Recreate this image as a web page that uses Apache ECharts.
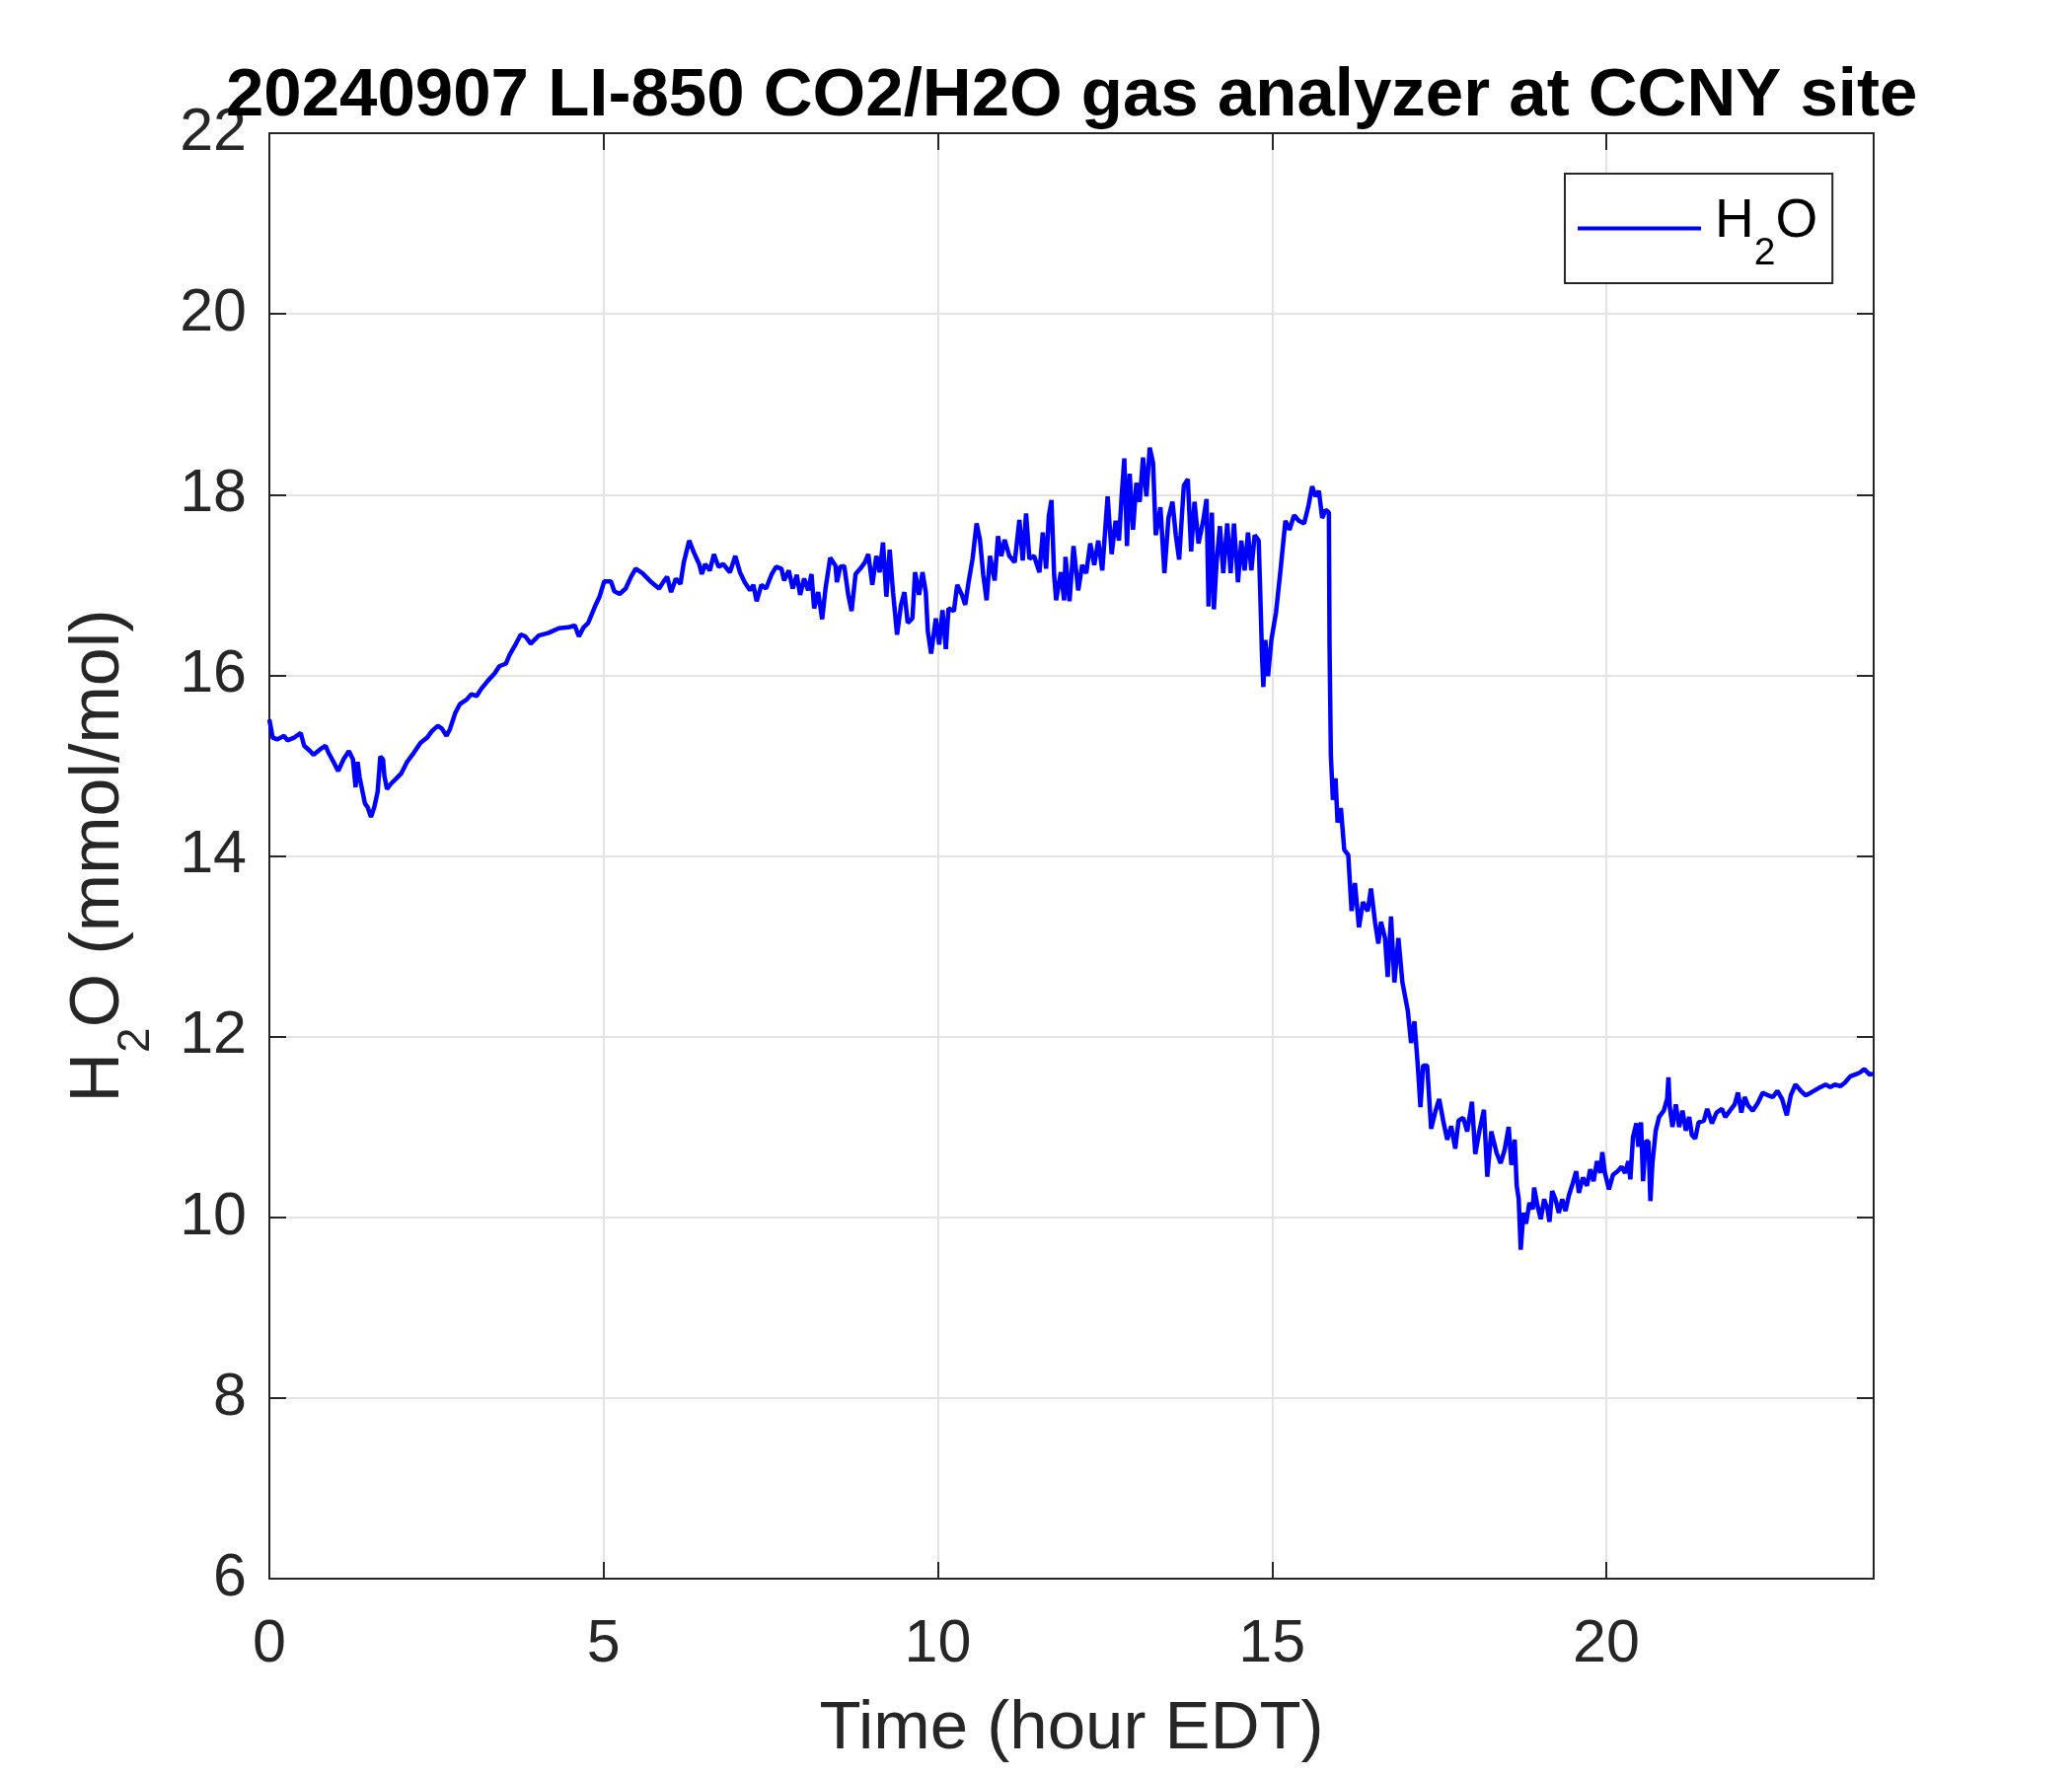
<!DOCTYPE html>
<html>
<head>
<meta charset="utf-8">
<script src="https://cdn.jsdelivr.net/npm/echarts@6/dist/echarts.min.js"></script>
<style>
html,body{margin:0;padding:0;background:#ffffff;}
#chart{width:2100px;height:1800px;}
</style>
</head>
<body>
<div id="chart"></div>
<script>
// ---- Data (hour EDT, H2O mmol/mol) ----
const h2oNightMorning = [
[0.00,15.51],[0.05,15.31],[0.12,15.29],[0.22,15.33],[0.27,15.28],[0.37,15.31],[0.47,15.36],[0.52,15.22],
[0.61,15.16],[0.66,15.12],[0.76,15.18],[0.84,15.22],[0.88,15.15],[0.96,15.04],[1.03,14.94],[1.11,15.07],
[1.19,15.16],[1.25,15.07],[1.29,14.76],[1.32,15.04],[1.35,14.87],[1.43,14.58],[1.47,14.54],[1.52,14.43],
[1.57,14.54],[1.62,14.71],[1.66,15.10],[1.70,15.07],[1.72,14.89],[1.76,14.74],[1.82,14.80],[1.89,14.85],
[1.97,14.91],[2.06,15.04],[2.16,15.14],[2.26,15.25],[2.36,15.31],[2.43,15.38],[2.52,15.44],[2.58,15.41],
[2.65,15.33],[2.70,15.40],[2.78,15.58],[2.85,15.68],[2.95,15.73],[3.02,15.79],[3.10,15.77],[3.17,15.85],
[3.27,15.94],[3.37,16.02],[3.44,16.10],[3.54,16.13],[3.59,16.22],[3.69,16.35],[3.76,16.45],[3.83,16.43],
[3.91,16.35],[4.03,16.44],[4.18,16.47],[4.33,16.52],[4.47,16.53],[4.57,16.55],[4.63,16.43],[4.70,16.53],
[4.77,16.58],[4.87,16.76],[4.94,16.87],[5.01,17.04],[5.11,17.04],[5.16,16.93],[5.24,16.90],[5.33,16.96],
[5.41,17.09],[5.48,17.18],[5.58,17.13],[5.70,17.04],[5.83,16.96],[5.90,17.04],[5.95,17.09]
];
const h2oLateMorning = [
[6.01,16.92],[6.08,17.07],[6.15,17.01],[6.20,17.25],[6.28,17.49],[6.35,17.36],[6.43,17.23],[6.47,17.12],
[6.52,17.23],[6.59,17.16],[6.65,17.34],[6.72,17.20],[6.79,17.23],[6.89,17.14],[6.97,17.32],[7.04,17.14],
[7.11,17.03],[7.19,16.94],[7.24,17.00],[7.29,16.82],[7.36,17.00],[7.43,16.96],[7.51,17.11],[7.58,17.20],
[7.66,17.18],[7.70,17.05],[7.77,17.16],[7.83,16.96],[7.89,17.11],[7.94,16.89],[8.00,17.07],[8.06,16.94],
[8.11,17.12],[8.15,16.74],[8.21,16.92],[8.27,16.62],[8.32,16.96],[8.39,17.30],[8.47,17.21],[8.49,17.03],
[8.54,17.20],[8.60,17.21],[8.66,16.89],[8.71,16.71],[8.77,17.12],[8.84,17.18],[8.91,17.25],[8.96,17.34],
[9.02,17.00],[9.08,17.32],[9.13,17.14],[9.18,17.47],[9.23,16.87],[9.28,17.39],[9.33,16.92],[9.39,16.45],
[9.45,16.78],[9.50,16.92],[9.55,16.58],[9.62,16.63],[9.66,17.14],[9.72,16.89],[9.77,17.14],[9.82,16.92],
[9.85,16.49],[9.90,16.24],[9.97,16.63],[10.02,16.34],[10.07,16.72],[10.12,16.29],[10.16,16.74],[10.24,16.71],
[10.29,17.00],[10.36,16.89],[10.41,16.78],[10.46,17.03],[10.52,17.29],[10.58,17.68],[10.63,17.50],[10.68,17.11],
[10.73,16.83],[10.78,17.32],[10.85,17.05],[10.90,17.54],[10.95,17.32],[11.00,17.50],[11.07,17.32],[11.15,17.25],
[11.22,17.72],[11.27,17.27],[11.32,17.79],[11.37,17.29],[11.44,17.32],[11.52,17.14],[11.57,17.58],[11.62,17.18],
[11.66,17.76],[11.70,17.94],[11.74,17.11],[11.77,16.83],[11.84,17.14],[11.89,16.83]
];
const h2oAfternoon = [
[11.91,17.31],[11.97,16.82],[12.03,17.43],[12.10,16.94],[12.16,17.22],[12.22,17.13],[12.28,17.46],[12.34,17.22],
[12.40,17.49],[12.46,17.16],[12.54,17.98],[12.60,17.34],[12.66,17.71],[12.71,17.49],[12.75,17.98],[12.79,18.40],
[12.83,17.43],[12.87,18.23],[12.92,17.61],[12.97,18.13],[13.02,17.92],[13.07,18.41],[13.12,17.98],[13.17,18.52],
[13.22,18.35],[13.26,17.55],[13.33,17.86],[13.39,17.13],[13.45,17.74],[13.51,17.92],[13.56,17.55],[13.61,17.28],
[13.68,18.10],[13.74,18.17],[13.79,17.37],[13.84,17.92],[13.90,17.46],[13.97,17.71],[14.02,17.95],[14.05,16.76],
[14.10,17.80],[14.13,16.73],[14.17,17.25],[14.22,17.65],[14.27,17.13],[14.33,17.68],[14.38,17.13],[14.43,17.68],
[14.49,17.03],[14.54,17.49],[14.59,17.16],[14.64,17.58],[14.69,17.16],[14.74,17.55],[14.80,17.49],[14.82,17.00],
[14.85,16.21],[14.87,15.87],[14.90,16.39],[14.94,15.99],[14.99,16.39],[15.06,16.70],[15.13,17.19],[15.20,17.71],
[15.26,17.61],[15.33,17.77],[15.40,17.71],[15.48,17.68],[15.54,17.86],[15.60,18.09],[15.65,17.98],[15.70,18.04],
[15.75,17.74],[15.80,17.83],[15.85,17.80],[15.86,16.33],[15.88,15.11],[15.91,14.62],[15.95,14.86],[15.98,14.37],
[16.03,14.53],[16.08,14.07],[16.14,14.01],[16.19,13.39],[16.24,13.70],[16.30,13.21],[16.36,13.49],[16.43,13.39],
[16.48,13.64],[16.54,13.27],[16.59,13.03],[16.63,13.27],[16.69,13.09],[16.73,12.66],[16.78,13.33],[16.83,12.60],
[16.89,13.09],[16.95,12.60],[17.03,12.29],[17.08,11.93],[17.13,12.17],[17.18,11.68],[17.22,11.22],[17.26,11.68],
[17.32,11.68],[17.38,10.98],[17.45,11.19],[17.50,11.31],[17.56,11.07],[17.62,10.86],[17.68,11.01],[17.74,10.76],
[17.79,11.07],[17.86,11.10],[17.92,10.95],[17.99,11.28],[18.04,10.70],[18.10,10.95],[18.17,11.19]
];
const h2oEvening = [
[18.22,10.45],[18.28,10.95],[18.36,10.71],[18.42,10.60],[18.48,10.75],[18.54,11.00],[18.58,10.58],[18.63,10.86],
[18.66,10.35],[18.69,10.20],[18.72,9.64],[18.76,10.05],[18.80,9.93],[18.85,10.16],[18.90,10.09],[18.92,10.33],
[18.97,10.13],[19.02,9.98],[19.07,10.20],[19.12,10.09],[19.15,9.95],[19.19,10.29],[19.24,10.20],[19.29,10.05],
[19.34,10.20],[19.39,10.07],[19.44,10.24],[19.50,10.38],[19.55,10.51],[19.59,10.27],[19.65,10.44],[19.71,10.35],
[19.76,10.53],[19.81,10.40],[19.86,10.62],[19.91,10.49],[19.94,10.72],[19.98,10.49],[20.04,10.31],[20.10,10.47],
[20.17,10.51],[20.23,10.56],[20.28,10.49],[20.33,10.62],[20.36,10.42],[20.40,10.89],[20.45,11.04],[20.48,10.78],
[20.52,11.05],[20.55,10.40],[20.59,10.84],[20.63,10.84],[20.66,10.18],[20.69,10.60],[20.74,10.96],[20.79,11.11],
[20.86,11.18],[20.91,11.31],[20.93,11.55],[20.95,11.22],[20.99,11.00],[21.04,11.25],[21.09,11.00],[21.14,11.18],
[21.19,10.96],[21.24,11.11],[21.28,10.91],[21.33,10.87],[21.38,11.05],[21.46,11.07],[21.51,11.20],[21.58,11.04],
[21.65,11.16],[21.73,11.20],[21.78,11.11],[21.85,11.18],[21.92,11.25],[21.97,11.38],[22.02,11.16],[22.07,11.33],
[22.12,11.24],[22.19,11.18],[22.27,11.27],[22.34,11.38],[22.42,11.35],[22.49,11.33],[22.56,11.40],[22.63,11.31],
[22.70,11.13],[22.76,11.35],[22.83,11.47],[22.91,11.40],[22.98,11.35],[23.06,11.38],[23.13,11.41],[23.20,11.44],
[23.28,11.47],[23.35,11.44],[23.42,11.47],[23.50,11.45],[23.57,11.49],[23.65,11.56],[23.72,11.58],[23.79,11.60],
[23.86,11.64],[23.94,11.58],[24.00,11.59]
];
const titleText = '20240907 LI-850 CO2/H2O gas analyzer at CCNY site';
const xAxisTitle = 'Time (hour EDT)';
const seriesName = 'H2O';

// ---- Chart ----
const FONT = "'Liberation Sans', Arial, Helvetica, sans-serif";
const AX = '#262626';
const seriesData = [].concat(h2oNightMorning, h2oLateMorning, h2oAfternoon, h2oEvening);

// centre the title over the plot area (plot spans x 273..1899)
const TITLE_SIZE = 69;
const mctx = document.createElement('canvas').getContext('2d');
mctx.font = 'bold ' + TITLE_SIZE + 'px ' + FONT;
const titleW = mctx.measureText(titleText).width;
const titleLeft = Math.round((273 + 1899) / 2 - titleW / 2);

const chart = echarts.init(document.getElementById('chart'), null, {renderer: 'canvas'});

const commonX = {
  type: 'value', min: 0, max: 24, interval: 5,
  axisLine: {show: true, onZero: false, lineStyle: {color: AX, width: 2}},
  axisTick: {show: true, inside: true, length: 17, lineStyle: {color: AX, width: 2}},
};
const commonY = {
  type: 'value', min: 6, max: 22, interval: 2,
  axisLine: {show: true, onZero: false, lineStyle: {color: AX, width: 2}},
  axisTick: {show: true, inside: true, length: 17, lineStyle: {color: AX, width: 2}},
};

const option = {
  animation: false,
  backgroundColor: '#ffffff',
  title: {
    text: titleText,
    left: titleLeft,
    top: 63,
    padding: 0,
    textStyle: {fontFamily: FONT, fontWeight: 'bold', fontSize: TITLE_SIZE, lineHeight: TITLE_SIZE, color: '#000000'}
  },
  legend: {
    left: 1586, top: 176,
    padding: [10, 15, 10, 13],
    borderColor: AX, borderWidth: 2, backgroundColor: '#ffffff',
    itemWidth: 125, itemHeight: 4, icon: 'rect',
    data: [seriesName],
    formatter: function () { return '{h|H}{s|2}{o|O}'; },
    textStyle: {
      fontFamily: FONT, fontSize: 55, color: '#000000',
      rich: {
        h: {fontFamily: FONT, fontSize: 55, lineHeight: 55, color: '#000000', padding: [0, 0, 14, 9]},
        o: {fontFamily: FONT, fontSize: 55, lineHeight: 55, color: '#000000', padding: [0, 0, 14, 0]},
        s: {fontFamily: FONT, fontSize: 39, lineHeight: 39, color: '#000000', padding: [52, 0, 0, 0]}
      }
    }
  },
  grid: {left: 273, right: 201, top: 135, bottom: 200},
  xAxis: [
    Object.assign({}, commonX, {
      position: 'bottom',
      name: xAxisTitle, nameLocation: 'middle', nameGap: 118,
      nameTextStyle: {fontFamily: FONT, fontSize: 69, color: AX},
      axisLabel: {show: true, margin: 37, fontFamily: FONT, fontSize: 61, color: AX, showMaxLabel: false},
      splitLine: {show: true, lineStyle: {color: '#e3e3e3', width: 2}}
    }),
    Object.assign({}, commonX, {
      position: 'top',
      axisLabel: {show: false},
      splitLine: {show: false}
    })
  ],
  yAxis: [
    Object.assign({}, commonY, {
      position: 'left',
      name: '{h|H}{s|2}{h|O (mmol/mol)}',
      nameLocation: 'middle', nameRotate: 90, nameGap: 112,
      nameTextStyle: {
        fontFamily: FONT, fontSize: 70, color: AX,
        rich: {
          h: {fontFamily: FONT, fontSize: 70, color: AX},
          s: {fontFamily: FONT, fontSize: 46, color: AX, padding: [74, 0, 0, 0]}
        }
      },
      axisLabel: {show: true, margin: 23, fontFamily: FONT, fontSize: 61, color: AX},
      splitLine: {show: true, lineStyle: {color: '#e3e3e3', width: 2}}
    }),
    Object.assign({}, commonY, {
      position: 'right',
      axisLabel: {show: false},
      splitLine: {show: false}
    })
  ],
  series: [{
    name: seriesName,
    type: 'line',
    xAxisIndex: 0, yAxisIndex: 0,
    data: seriesData,
    symbol: 'none', showSymbol: false,
    lineStyle: {color: '#0000ff', width: 4.5},
    itemStyle: {color: '#0000ff'},
    z: 3
  }]
};
chart.setOption(option);
</script>
</body>
</html>
